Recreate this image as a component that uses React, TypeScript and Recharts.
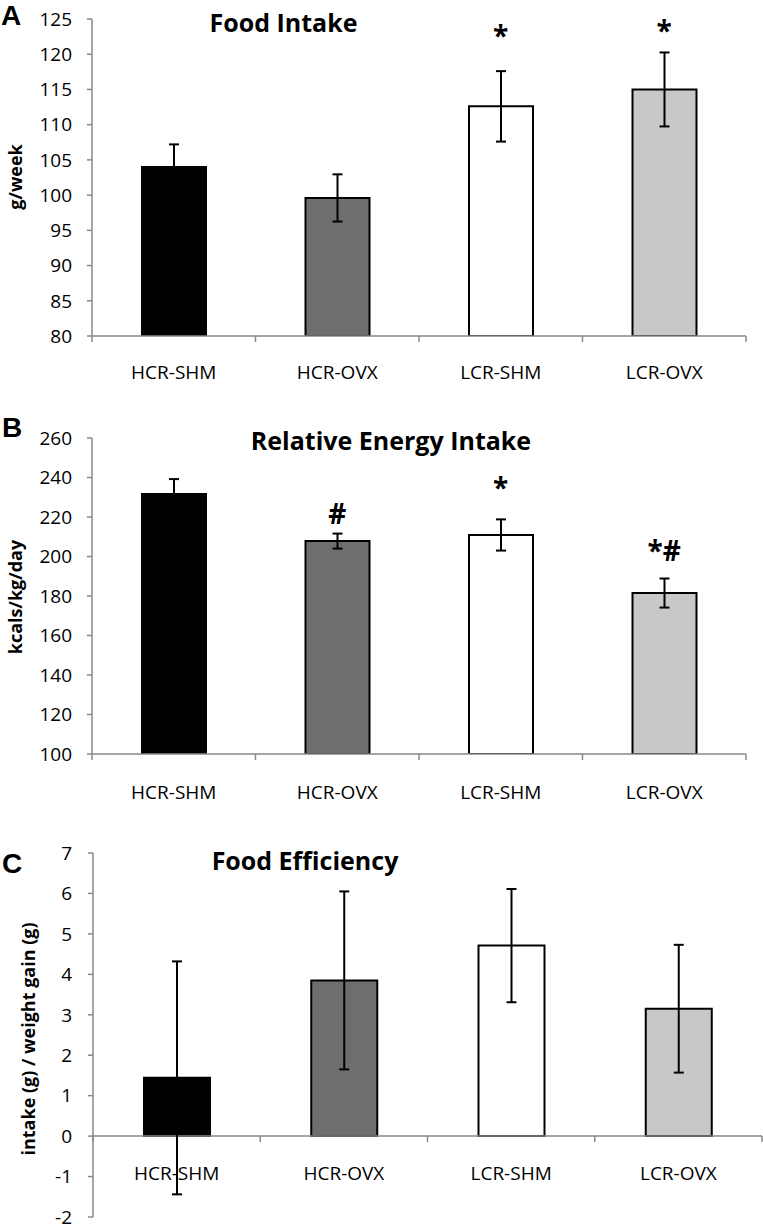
import React from 'react';
import { ComposedChart, Bar, XAxis, YAxis, ErrorBar, Scatter, Cell, ReferenceLine, Label } from 'recharts';

const categories = ['HCR-SHM', 'HCR-OVX', 'LCR-SHM', 'LCR-OVX'];
const barColors = ['#000000', '#6e6e6e', '#ffffff', '#c8c8c8'];

const foodIntake = [104.0, 99.6, 112.6, 115.0];
const foodIntakeErr = [3.2, 3.35, 5.0, 5.25];
const foodIntakeAnn = ['', '', '*', '*'];
const foodIntakeAnnY = [null, null, 122.7, 123.5];
const ticksA = [80, 85, 90, 95, 100, 105, 110, 115, 120, 125];

const energyIntake = [231.6, 207.8, 210.9, 181.5];
const energyIntakeErr = [7.6, 3.8, 7.9, 7.35];
const energyIntakeAnn = ['', '#', '*', '*#'];
const energyIntakeAnnY = [null, 222, 235.2, 203.3];
const ticksB = [100, 120, 140, 160, 180, 200, 220, 240, 260];

const efficiency = [1.44, 3.85, 4.71, 3.15];
const efficiencyErr = [2.88, 2.2, 1.4, 1.58];
const ticksC = [-2, -1, 0, 1, 2, 3, 4, 5, 6, 7];

const W = 763;
const FONT = '"Open Sans", sans-serif';
const AXIS = '#888888';

const build = (vals: number[], errs: number[], anns?: string[], annYs?: (number | null)[]) =>
  categories.map((name, i) => ({
    name,
    value: vals[i],
    err: errs[i],
    ann: anns ? anns[i] : '',
    annY: annYs ? annYs[i] : null,
  }));

const dataA = build(foodIntake, foodIntakeErr, foodIntakeAnn, foodIntakeAnnY);
const dataB = build(energyIntake, energyIntakeErr, energyIntakeAnn, energyIntakeAnnY);
const dataC = build(efficiency, efficiencyErr);

const makeXTick = (bw: number, lineDy: number, labelDy: number) => (props: any) => {
  const { x, y, payload, index } = props;
  const ly = y + lineDy;
  return (
    <g>
      <line x1={x - bw / 2} x2={x - bw / 2} y1={ly} y2={ly + 6} stroke={AXIS} strokeWidth={1.5} />
      {index === categories.length - 1 && (
        <line x1={x + bw / 2} x2={x + bw / 2} y1={ly} y2={ly + 6} stroke={AXIS} strokeWidth={1.5} />
      )}
      <text x={x} y={ly + labelDy} textAnchor="middle" dominantBaseline="central" fontFamily={FONT} fontSize={19} fill="#000">
        {payload.value}
      </text>
    </g>
  );
};

const AnnShape = (props: any) => {
  const { cx, cy, payload } = props;
  if (!payload || !payload.ann || cy == null || isNaN(cy)) return <g />;
  return (
    <text x={cx} y={cy} textAnchor="middle" dominantBaseline="central" fontFamily={FONT} fontWeight={700} fontSize={28} fill="#000">
      {payload.ann}
    </text>
  );
};

const yLabel = (text: string, x: number, y: number) => () => (
  <text transform={`translate(${x}, ${y}) rotate(-90)`} textAnchor="middle" dominantBaseline="central" fontFamily={FONT} fontWeight={700} fontSize={18} fill="#000">
    {text}
  </text>
);

const yTick = { fontFamily: FONT, fontSize: 19, fill: '#000' };

const bars = (data: any[], size: number) => (
  <Bar dataKey="value" barSize={size} stroke="#000" strokeWidth={2} isAnimationActive={false}>
    {data.map((d, i) => (
      <Cell key={d.name} fill={barColors[i]} />
    ))}
    <ErrorBar dataKey="err" width={5} stroke="#000" strokeWidth={2} />
  </Bar>
);

export default function App() {
  // Panel A geometry
  const aH = 400, aTop = 19, aRight = 17, aYW = 92, aXH = 64;
  const aBW = (W - aYW - aRight) / 4;
  // Panel B geometry
  const bH = 410, bTop = 38, bRight = 17, bYW = 92, bXH = 56;
  const bBW = (W - bYW - bRight) / 4;
  // Panel C geometry
  const cOff = 806;
  const cH = 424, cTop = 47, cRight = 1, cYW = 93, cXH = 13;
  const cBW = (W - cYW - cRight) / 4;
  const cPlotH = cH - cTop - cXH;
  const cZeroOffset = (cPlotH * (0 - ticksC[0])) / (ticksC[ticksC.length - 1] - ticksC[0]);

  return (
    <div style={{ position: 'absolute', left: 0, top: 0, width: W, height: 1230, background: '#fff', overflow: 'hidden' }}>
      <div style={{ position: 'absolute', left: 0, top: 0 }}>
        <ComposedChart width={W} height={aH} data={dataA} margin={{ top: aTop, right: aRight, left: 0, bottom: 0 }}>
          <XAxis dataKey="name" height={aXH} interval={0} tickSize={0} tickMargin={0} axisLine={{ stroke: AXIS, strokeWidth: 1.5 }} tickLine={false} tick={makeXTick(aBW, 0, 36)} />
          <YAxis width={aYW} domain={[80, 125]} ticks={ticksA} allowDataOverflow interval={0} tickSize={5} tickMargin={15} axisLine={{ stroke: AXIS, strokeWidth: 1.5 }} tickLine={{ stroke: AXIS, strokeWidth: 1.5 }} tick={yTick}>
            <Label content={yLabel('g/week', 15, 177)} />
          </YAxis>
          {bars(dataA, 64)}
          <Scatter dataKey="annY" shape={AnnShape} isAnimationActive={false} />
        </ComposedChart>
      </div>
      <div style={{ position: 'absolute', left: 0, top: 400 }}>
        <ComposedChart width={W} height={bH} data={dataB} margin={{ top: bTop, right: bRight, left: 0, bottom: 0 }}>
          <XAxis dataKey="name" height={bXH} interval={0} tickSize={0} tickMargin={0} axisLine={{ stroke: AXIS, strokeWidth: 1.5 }} tickLine={false} tick={makeXTick(bBW, 0, 38)} />
          <YAxis width={bYW} domain={[100, 260]} ticks={ticksB} allowDataOverflow interval={0} tickSize={5} tickMargin={15} axisLine={{ stroke: AXIS, strokeWidth: 1.5 }} tickLine={{ stroke: AXIS, strokeWidth: 1.5 }} tick={yTick}>
            <Label content={yLabel('kcals/kg/day', 15, 197)} />
          </YAxis>
          {bars(dataB, 64)}
          <Scatter dataKey="annY" shape={AnnShape} isAnimationActive={false} />
        </ComposedChart>
      </div>
      <div style={{ position: 'absolute', left: 0, top: cOff }}>
        <ComposedChart width={W} height={cH} data={dataC} margin={{ top: cTop, right: cRight, left: 0, bottom: 0 }}>
          <XAxis dataKey="name" height={cXH} interval={0} tickSize={0} tickMargin={0} axisLine={false} tickLine={false} tick={makeXTick(cBW, -cZeroOffset, 37)} />
          <YAxis width={cYW} domain={[-2, 7]} ticks={ticksC} allowDataOverflow interval={0} tickSize={5} tickMargin={16} axisLine={{ stroke: AXIS, strokeWidth: 1.5 }} tickLine={{ stroke: AXIS, strokeWidth: 1.5 }} tick={yTick}>
            <Label content={yLabel('intake (g) / weight gain (g)', 28, 1039 - cOff)} />
          </YAxis>
          <ReferenceLine y={0} stroke={AXIS} strokeWidth={1.5} />
          {bars(dataC, 66)}
        </ComposedChart>
      </div>
      <svg width={W} height={1230} style={{ position: 'absolute', left: 0, top: 0, pointerEvents: 'none' }}>
        <g fontFamily={FONT} fontWeight={700} fontSize={25} fill="#000" textAnchor="middle">
          <text x={283.5} y={32}>Food Intake</text>
          <text x={391} y={450}>Relative Energy Intake</text>
          <text x={305} y={870}>Food Efficiency</text>
        </g>
        <g fontFamily='"Liberation Sans", Arial, sans-serif' fontWeight={700} fontSize={28} fill="#000">
          <text x={1} y={25}>A</text>
          <text x={2} y={437}>B</text>
          <text x={2} y={873}>C</text>
        </g>
      </svg>
    </div>
  );
}
